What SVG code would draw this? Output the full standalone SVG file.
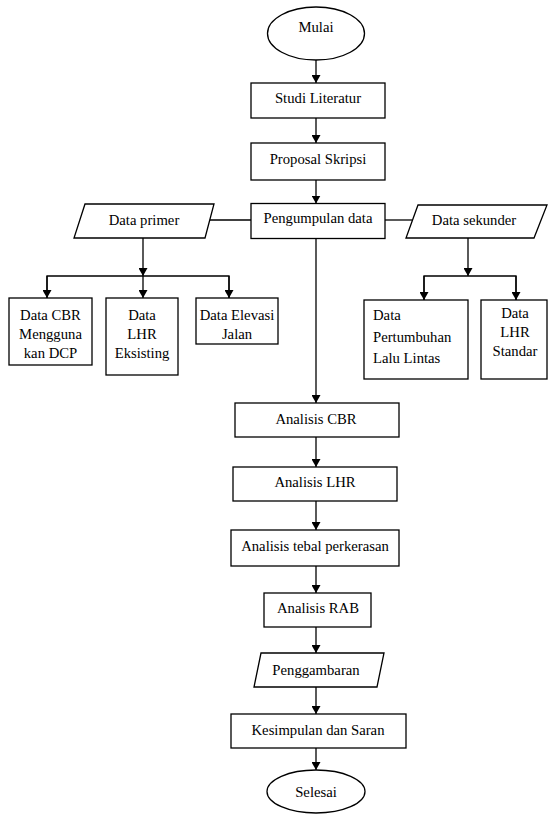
<svg xmlns="http://www.w3.org/2000/svg" width="548" height="815" viewBox="0 0 548 815" font-family="Liberation Serif, DejaVu Serif, serif">
<style>
.s{fill:#fff;stroke:#000;stroke-width:1.3}
.c{fill:none;stroke:#000;stroke-width:1.3}
text{font-family:'Liberation Serif','DejaVu Serif',serif;font-size:14.7px;fill:#000}
.m{text-anchor:middle}
</style>
<defs>
<marker id="ah" markerUnits="userSpaceOnUse" markerWidth="8" markerHeight="9" viewBox="0 0 8 9" refX="8" refY="4.5" orient="auto">
<path d="M0,0 L8,4.5 L0,9 Z" fill="#000"/>
</marker>
</defs>
<rect width="548" height="815" fill="#fff"/>
<g id="connectors">
<line class="c" x1="316" y1="60" x2="316" y2="83" marker-end="url(#ah)"/>
<line class="c" x1="316" y1="118" x2="316" y2="143" marker-end="url(#ah)"/>
<line class="c" x1="316" y1="180" x2="316" y2="203.5" marker-end="url(#ah)"/>
<line class="c" x1="207" y1="220" x2="251" y2="220"/>
<line class="c" x1="385" y1="220" x2="412" y2="220"/>
<line class="c" x1="316" y1="238.5" x2="316" y2="403" marker-end="url(#ah)"/>
<line class="c" x1="143" y1="238" x2="143" y2="276" marker-end="url(#ah)"/>
<polyline class="c" points="47,298 47,276 229,276 229,298"/>
<line class="c" x1="47" y1="276" x2="47" y2="298" marker-end="url(#ah)"/>
<line class="c" x1="143" y1="276" x2="143" y2="298" marker-end="url(#ah)"/>
<line class="c" x1="229" y1="276" x2="229" y2="298" marker-end="url(#ah)"/>
<line class="c" x1="468" y1="238" x2="468" y2="276" marker-end="url(#ah)"/>
<polyline class="c" points="424,300 424,276 516,276 516,300"/>
<line class="c" x1="424" y1="276" x2="424" y2="300" marker-end="url(#ah)"/>
<line class="c" x1="516" y1="276" x2="516" y2="300" marker-end="url(#ah)"/>
<line class="c" x1="316" y1="437" x2="316" y2="467" marker-end="url(#ah)"/>
<line class="c" x1="316" y1="501" x2="316" y2="530" marker-end="url(#ah)"/>
<line class="c" x1="316" y1="566" x2="316" y2="593" marker-end="url(#ah)"/>
<line class="c" x1="316" y1="627" x2="316" y2="653" marker-end="url(#ah)"/>
<line class="c" x1="316" y1="687" x2="316" y2="714" marker-end="url(#ah)"/>
<line class="c" x1="316" y1="748" x2="316" y2="770" marker-end="url(#ah)"/>
</g>
<g id="mulai">
<ellipse class="s" cx="316" cy="33.5" rx="48.5" ry="26.5"/>
<text class="m" x="316" y="32">Mulai</text>
</g>
<g id="studi">
<rect class="s" x="251" y="83" width="134" height="35"/>
<text class="m" x="318" y="103">Studi Literatur</text>
</g>
<g id="proposal">
<rect class="s" x="251" y="143" width="134" height="37"/>
<text class="m" x="318" y="164">Proposal Skripsi</text>
</g>
<g id="pengumpulan">
<rect class="s" x="251" y="203.5" width="134" height="35"/>
<text class="m" x="318" y="223">Pengumpulan data</text>
</g>
<g id="dataprimer">
<polygon class="s" points="85,204 214,204 205,238 74,238"/>
<text class="m" x="144" y="225">Data primer</text>
</g>
<g id="datasekunder">
<polygon class="s" points="418,205 547,205 534,238 406,238"/>
<text class="m" x="474" y="225">Data sekunder</text>
</g>
<g id="cbr">
<rect class="s" x="9" y="298" width="83" height="67"/>
<text class="m" x="50.5" y="320">Data CBR</text>
<text class="m" x="50.5" y="339">Mengguna</text>
<text class="m" x="50.5" y="358">kan DCP</text>
</g>
<g id="lhreks">
<rect class="s" x="106" y="298" width="72" height="77"/>
<text class="m" x="142" y="320">Data</text>
<text class="m" x="142" y="339">LHR</text>
<text class="m" x="142" y="358">Eksisting</text>
</g>
<g id="elevasi">
<rect class="s" x="196" y="298" width="82" height="46"/>
<text class="m" x="237" y="320">Data Elevasi</text>
<text class="m" x="237" y="339">Jalan</text>
</g>
<g id="pertumbuhan">
<rect class="s" x="364" y="300" width="104" height="79"/>
<text x="373" y="320">Data</text>
<text x="373" y="342">Pertumbuhan</text>
<text x="373" y="363">Lalu Lintas</text>
</g>
<g id="lhrstandar">
<rect class="s" x="481" y="300" width="66" height="79"/>
<text class="m" x="515" y="318">Data</text>
<text class="m" x="515" y="337">LHR</text>
<text class="m" x="515" y="356">Standar</text>
</g>
<g id="analisiscbr">
<rect class="s" x="235" y="403" width="164" height="34"/>
<text class="m" x="316" y="424">Analisis CBR</text>
</g>
<g id="analisislhr">
<rect class="s" x="233" y="467" width="164" height="34"/>
<text class="m" x="315" y="487">Analisis LHR</text>
</g>
<g id="analisistebal">
<rect class="s" x="231" y="530" width="168" height="36"/>
<text class="m" x="315" y="551">Analisis tebal perkerasan</text>
</g>
<g id="analisisrab">
<rect class="s" x="264" y="593" width="107" height="34"/>
<text class="m" x="318" y="613">Analisis RAB</text>
</g>
<g id="penggambaran">
<polygon class="s" points="261,653 384,653 377,687 254,687"/>
<text class="m" x="316" y="675">Penggambaran</text>
</g>
<g id="kesimpulan">
<rect class="s" x="231" y="714" width="175" height="34"/>
<text class="m" x="318" y="735">Kesimpulan dan Saran</text>
</g>
<g id="selesai">
<ellipse class="s" cx="316" cy="791.5" rx="49" ry="21.5"/>
<text class="m" x="316" y="797">Selesai</text>
</g>
</svg>
